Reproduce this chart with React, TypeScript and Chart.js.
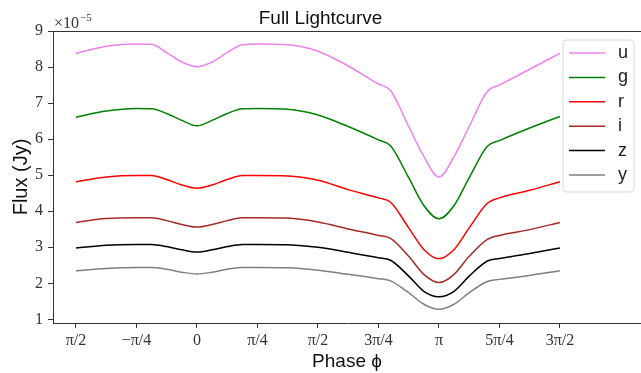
import React, { useEffect, useRef } from "react";
import { Chart, registerables } from "chart.js";

Chart.register(...registerables);

// phase in units of pi/4
const phases = [-2, -1.5, -1, -0.75, -0.5, -0.25, 0, 0.25, 0.5, 0.75, 1, 1.5, 2, 2.5, 3, 3.2, 3.5, 3.75, 4, 4.25, 4.5, 4.8, 5, 5.5, 6];

// flux in units of 1e-5 Jy
const fluxU = [8.38, 8.58, 8.64, 8.63, 8.40, 8.14, 8.01, 8.14, 8.40, 8.62, 8.64, 8.62, 8.44, 8.03, 7.53, 7.35, 6.35, 5.52, 4.95, 5.52, 6.35, 7.33, 7.50, 7.94, 8.38];
const fluxG = [6.61, 6.78, 6.85, 6.84, 6.71, 6.52, 6.37, 6.52, 6.71, 6.84, 6.85, 6.83, 6.67, 6.35, 5.98, 5.82, 4.93, 4.16, 3.79, 4.16, 4.93, 5.80, 5.96, 6.31, 6.63];
const fluxR = [4.82, 4.95, 4.99, 4.99, 4.88, 4.73, 4.64, 4.73, 4.88, 4.99, 4.99, 4.98, 4.86, 4.60, 4.37, 4.25, 3.54, 2.94, 2.68, 2.94, 3.54, 4.22, 4.37, 4.58, 4.82];
const fluxI = [3.69, 3.80, 3.82, 3.82, 3.74, 3.63, 3.56, 3.63, 3.74, 3.82, 3.82, 3.81, 3.70, 3.51, 3.33, 3.25, 2.75, 2.25, 2.02, 2.25, 2.75, 3.22, 3.33, 3.49, 3.69];
const fluxZ = [2.98, 3.06, 3.08, 3.08, 3.02, 2.93, 2.87, 2.93, 3.02, 3.08, 3.08, 3.07, 3.00, 2.86, 2.71, 2.64, 2.20, 1.78, 1.63, 1.78, 2.20, 2.62, 2.69, 2.83, 2.98];
const fluxY = [2.35, 2.41, 2.44, 2.44, 2.39, 2.31, 2.26, 2.31, 2.39, 2.44, 2.44, 2.43, 2.36, 2.25, 2.13, 2.07, 1.74, 1.42, 1.28, 1.42, 1.74, 2.05, 2.11, 2.22, 2.35];

const bandNames = ["u", "g", "r", "i", "z", "y"];
const bandColors = ["#ee82ee", "#008000", "#ff0000", "#a52a2a", "#000000", "#808080"];
const bandFluxes = [fluxU, fluxG, fluxR, fluxI, fluxZ, fluxY];

const xTickValues = [-2, -1, 0, 1, 2, 3, 4, 5, 6];
const xTickLabels = ["π/2", "−π/4", "0", "π/4", "π/2", "3π/4", "π", "5π/4", "3π/2"];
const yTickValues = [1, 2, 3, 4, 5, 6, 7, 8, 9];

const SERIF = "'Liberation Serif', 'DejaVu Serif', serif";
const SANS = "'Liberation Sans', 'DejaVu Sans', sans-serif";
const AXIS_COLOR = "#333";

const extrasPlugin = {
  id: "extras",
  afterDraw(chart: any) {
    const { ctx, chartArea } = chart;
    ctx.save();
    // top spine
    ctx.strokeStyle = AXIS_COLOR;
    ctx.lineWidth = 1;
    ctx.beginPath();
    ctx.moveTo(chartArea.left, Math.round(chartArea.top) + 0.5);
    ctx.lineTo(chartArea.right, Math.round(chartArea.top) + 0.5);
    ctx.stroke();

    // offset text x10^-5
    ctx.fillStyle = "#333";
    ctx.textBaseline = "alphabetic";
    ctx.textAlign = "left";
    ctx.font = `16px ${SERIF}`;
    ctx.fillText("×10", chartArea.left + 1, 28);
    const w = ctx.measureText("×10").width;
    ctx.font = `11px ${SERIF}`;
    ctx.fillText("−5", chartArea.left + 1 + w + 1, 21);

    // legend
    const bx = 563, by = 40, bw = 71, bh = 152, r = 3;
    ctx.beginPath();
    ctx.moveTo(bx + r, by);
    ctx.lineTo(bx + bw - r, by);
    ctx.arcTo(bx + bw, by, bx + bw, by + r, r);
    ctx.lineTo(bx + bw, by + bh - r);
    ctx.arcTo(bx + bw, by + bh, bx + bw - r, by + bh, r);
    ctx.lineTo(bx + r, by + bh);
    ctx.arcTo(bx, by + bh, bx, by + bh - r, r);
    ctx.lineTo(bx, by + r);
    ctx.arcTo(bx, by, bx + r, by, r);
    ctx.closePath();
    ctx.fillStyle = "rgba(255,255,255,0.8)";
    ctx.fill();
    ctx.strokeStyle = "#d9d9d9";
    ctx.lineWidth = 1;
    ctx.stroke();

    ctx.font = `18px ${SANS}`;
    ctx.textBaseline = "middle";
    ctx.textAlign = "left";
    for (let k = 0; k < bandNames.length; k++) {
      const yy = 53 + k * 24.4;
      ctx.strokeStyle = bandColors[k];
      ctx.lineWidth = 1.5;
      ctx.beginPath();
      ctx.moveTo(569, yy);
      ctx.lineTo(605, yy);
      ctx.stroke();
      ctx.fillStyle = "#222";
      ctx.fillText(bandNames[k], 618, yy);
    }
    ctx.restore();
  },
};

export default function App() {
  const canvasRef = useRef<HTMLCanvasElement | null>(null);

  useEffect(() => {
    document.body.style.margin = "0";
    const canvas = canvasRef.current;
    if (!canvas) return;
    const datasets = bandNames.map((name, k) => ({
      label: name,
      data: phases.map((p, j) => ({ x: p, y: bandFluxes[k][j] })),
      borderColor: bandColors[k],
      backgroundColor: bandColors[k],
      borderWidth: 1.5,
      pointRadius: 0,
      cubicInterpolationMode: "monotone" as const,
      fill: false,
    }));

    const chart = new Chart(canvas, {
      type: "line",
      data: { datasets },
      plugins: [extrasPlugin],
      options: {
        animation: false,
        responsive: false,
        devicePixelRatio: 1,
        layout: { padding: 0 },
        plugins: {
          legend: { display: false },
          tooltip: { enabled: false },
          title: {
            display: true,
            text: "Full Lightcurve",
            color: "#111",
            font: { family: SANS, size: 19, weight: "normal" },
            padding: { top: 7, bottom: 1.2 },
          },
        },
        scales: {
          x: {
            type: "linear",
            min: -2.38,
            max: 7.34,
            afterBuildTicks: (scale: any) => {
              scale.ticks = xTickValues.map((v) => ({ value: v }));
            },
            afterFit: (scale: any) => {
              scale.height = 50;
            },
            ticks: {
              autoSkip: false,
              maxRotation: 0,
              padding: 3,
              color: "#333",
              font: { family: SERIF, size: 16 },
              callback: (value: any) => {
                const i = xTickValues.indexOf(Number(value));
                return i >= 0 ? xTickLabels[i] : "";
              },
            },
            grid: {
              display: true,
              drawOnChartArea: false,
              drawTicks: true,
              tickLength: 5,
              tickColor: AXIS_COLOR,
              color: AXIS_COLOR,
            },
            border: { display: true, color: AXIS_COLOR, width: 1 },
            title: {
              display: true,
              text: "Phase ϕ",
              color: "#111",
              font: { family: SANS, size: 19 },
              padding: { top: 0, bottom: 0 },
            },
          },
          y: {
            type: "linear",
            min: 0.9,
            max: 9,
            afterBuildTicks: (scale: any) => {
              scale.ticks = yTickValues.map((v) => ({ value: v }));
            },
            afterFit: (scale: any) => {
              scale.width = 53;
            },
            ticks: {
              padding: 5,
              color: "#333",
              font: { family: SERIF, size: 16 },
              callback: (value: any) => String(value),
            },
            grid: {
              display: true,
              drawOnChartArea: false,
              drawTicks: true,
              tickLength: 5,
              tickColor: AXIS_COLOR,
              color: AXIS_COLOR,
            },
            border: { display: true, color: AXIS_COLOR, width: 1 },
            title: {
              display: true,
              text: "Flux (Jy)",
              color: "#111",
              font: { family: SANS, size: 20 },
              padding: { top: 9, bottom: 0 },
            },
          },
        },
      },
    });
    return () => chart.destroy();
  }, []);

  return (
    <div style={{ position: "absolute", left: 0, top: 0, width: 641, height: 373 }}>
      <canvas ref={canvasRef} width={641} height={373} style={{ width: 641, height: 373 }} />
    </div>
  );
}
